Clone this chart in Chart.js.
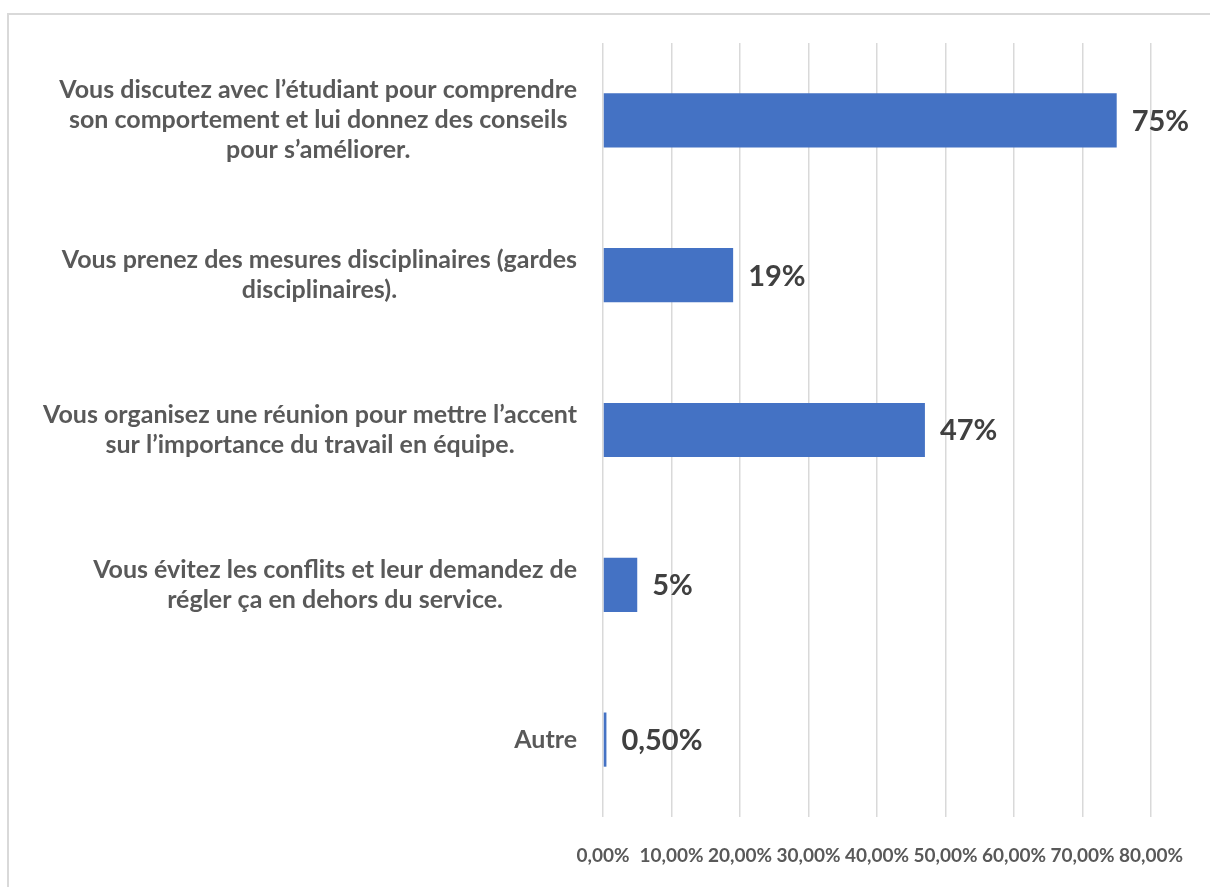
<!DOCTYPE html>
<html lang="fr">
<head>
<meta charset="utf-8">
<title>Réponses</title>
<script src="https://cdn.jsdelivr.net/npm/chart.js@4/dist/chart.umd.min.js"></script>
<style>
  html, body { margin: 0; padding: 0; background: #fff; overflow: hidden; }
  #wrap  { position: relative; width: 1210px; height: 887px; }
  #frame { position: absolute; left: 7px; top: 13px; width: 1300px; height: 1000px;
           border: 2px solid #d9d9d9; box-sizing: border-box; }
  #chart { position: absolute; left: 0; top: 0; }
</style>
</head>
<body>
<div id="wrap">
  <div id="frame"></div>
  <canvas id="chart" width="1210" height="887"></canvas>
</div>
<script>
/* ---------- data ---------- */
const categories = [
  ['Vous discutez avec l’étudiant pour comprendre', 'son comportement et lui donnez des conseils', 'pour s’améliorer.'],
  ['Vous prenez des mesures disciplinaires (gardes', 'disciplinaires).'],
  ['Vous organisez une réunion pour mettre l’accent', 'sur l’importance du travail en équipe.'],
  ['Vous évitez les conflits et leur demandez de', 'régler ça en dehors du service.'],
  ['Autre']
];
const values     = [75, 19, 47, 5, 0.5];
const tickValues = [0, 10, 20, 30, 40, 50, 60, 70, 80];

/* ---------- look ---------- */
const FONT      = 'Lato, "Open Sans", sans-serif';
const BAR_BLUE  = '#4472C4';
const GRID_GREY = '#d9d9d9';
const LABEL_CLR = '#595959';
const VALUE_CLR = '#404040';

function pct(v)      { return v.toFixed(2).replace('.', ',') + '%'; }
function valueText(v){ return Number.isInteger(v) ? v + '%' : pct(v); }

/* category labels: each block right-aligned to the axis, lines centred inside it */
const categoryLabels = {
  id: 'categoryLabels',
  afterDraw(chart) {
    const ctx = chart.ctx, y = chart.scales.y;
    const right = chart.chartArea.left - 26;
    const lineH = 30;
    ctx.save();
    ctx.font = 'bold 25px ' + FONT;
    ctx.fillStyle = LABEL_CLR;
    ctx.textAlign = 'center';
    ctx.textBaseline = 'middle';
    categories.forEach((lines, i) => {
      const cy = y.getPixelForTick(i);
      const w  = Math.max(...lines.map(l => ctx.measureText(l).width));
      const cx = right - w / 2;
      lines.forEach((l, k) => {
        ctx.fillText(l, cx, cy + (k - (lines.length - 1) / 2) * lineH);
      });
    });
    ctx.restore();
  }
};

/* value labels right of every bar */
const valueLabels = {
  id: 'valueLabels',
  afterDatasetsDraw(chart) {
    const ctx = chart.ctx;
    const meta = chart.getDatasetMeta(0);
    ctx.save();
    ctx.font = 'bold 29px ' + FONT;
    ctx.fillStyle = VALUE_CLR;
    ctx.textAlign = 'left';
    ctx.textBaseline = 'middle';
    meta.data.forEach((bar, i) => {
      ctx.fillText(valueText(values[i]), bar.x + 15, bar.y + 1);
    });
    ctx.restore();
  }
};

new Chart(document.getElementById('chart'), {
  type: 'bar',
  data: {
    labels: categories,
    datasets: [{
      data: values,
      backgroundColor: BAR_BLUE,
      borderWidth: 0,
      categoryPercentage: 1,
      barPercentage: 0.35
    }]
  },
  options: {
    indexAxis: 'y',
    responsive: false,
    animation: false,
    events: [],
    layout: { padding: { left: 0, right: 59, top: 43, bottom: 0 } },
    plugins: { legend: { display: false }, tooltip: { enabled: false } },
    scales: {
      x: {
        min: 0, max: 80,
        afterBuildTicks: s => { s.ticks = tickValues.map(v => ({ value: v })); },
        afterFit: s => { s.height = 70; },
        grid: { color: GRID_GREY, lineWidth: 1.5, drawTicks: false },
        border: { display: false },
        ticks: {
          padding: 27,
          autoSkip: false,
          maxRotation: 0,
          color: LABEL_CLR,
          font: { family: FONT, size: 19, weight: 'bold' },
          callback: v => pct(v)
        }
      },
      y: {
        grid: { display: false },
        border: { display: false },
        ticks: { display: false },
        afterFit: s => { s.width = 603; }
      }
    }
  },
  plugins: [categoryLabels, valueLabels]
});
</script>
</body>
</html>
